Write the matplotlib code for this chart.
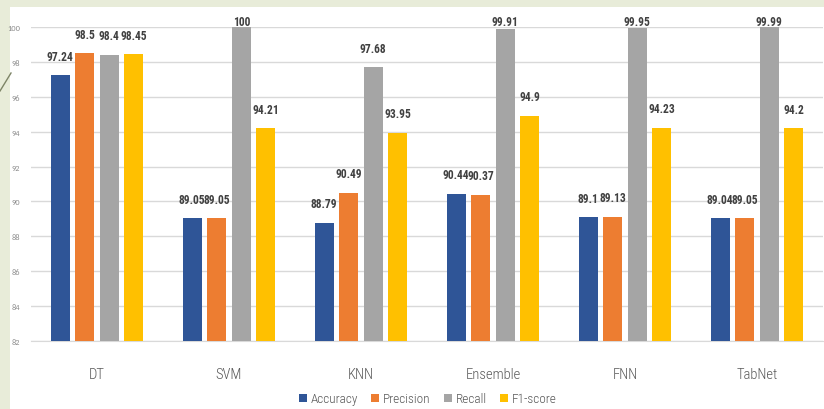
import matplotlib
matplotlib.use("Agg")
import matplotlib.pyplot as plt
from matplotlib.patches import Rectangle
from matplotlib.lines import Line2D
import numpy as np

models = ["DT", "SVM", "KNN", "Ensemble", "FNN", "TabNet"]
series_names = ["Accuracy", "Precision", "Recall", "F1-score"]
accuracy = [97.24, 89.05, 88.79, 90.44, 89.1, 89.04]
precision = [98.5, 89.05, 90.49, 90.37, 89.13, 89.05]
recall = [98.4, 100, 97.68, 99.91, 99.95, 99.99]
f1_score = [98.45, 94.21, 93.95, 94.9, 94.23, 94.2]
label_texts = [
    ["97.24", "89.05", "88.79", "90.44", "89.1", "89.04"],
    ["98.5", "89.05", "90.49", "90.37", "89.13", "89.05"],
    ["98.4", "100", "97.68", "99.91", "99.95", "99.99"],
    ["98.45", "94.21", "93.95", "94.9", "94.23", "94.2"],
]
yticks = [82, 84, 86, 88, 90, 92, 94, 96, 98, 100]

colors = ["#2F5597", "#ED7D31", "#A5A5A5", "#FFC000"]
W, H = 824, 410
fig = plt.figure(figsize=(W / 100, H / 100), dpi=100)
fig.patch.set_facecolor("#E8ECD9")
# white panel
fig.add_artist(Rectangle((10 / W, 0), 1, 1 - 8 / H, transform=fig.transFigure,
                         facecolor="white", edgecolor="none", zorder=0))
# decorative line
fig.add_artist(Line2D([0, 11 / W], [1 - 92 / H, 1 - 74 / H], transform=fig.transFigure,
                      color="#7D8466", lw=1.0))

ax = fig.add_axes([31 / W, 1 - 342 / H, (823 - 31) / W, (342 - 28) / H])
ax.set_facecolor("none")
x = np.arange(len(models))
pitch = 0.186
width = 0.145
data = [accuracy, precision, recall, f1_score]
font_lbl = ["Roboto Condensed", "Carlito", "DejaVu Sans"]
font_txt = ["Roboto Condensed", "Carlito", "DejaVu Sans"]
px_per_unit = (342 - 28) / 18.0
for i, (vals, c, name) in enumerate(zip(data, colors, series_names)):
    pos = x + (i - 1.5) * pitch
    ax.bar(pos, [v - 82 for v in vals], width, bottom=82, color=c, label=name, zorder=3)
    for p, v, t in zip(pos, vals, label_texts[i]):
        ly = min(v + 19 / px_per_unit, 100 + 6 / px_per_unit)
        ax.text(p, ly, t, ha="center", va="center", fontsize=8.3, fontweight="bold",
                color="#404040", family=font_lbl, clip_on=False, zorder=4)

ax.set_xlim(-0.5, 5.5)
ax.set_ylim(82, 100)
ax.set_yticks(yticks)
ax.set_yticklabels([str(t) for t in yticks], fontsize=6, color="#8C8C8C", family=["Carlito", "DejaVu Sans"])
ax.yaxis.grid(True, color="#D9D9D9", lw=1.0, zorder=0)
ax.set_axisbelow(True)
ax.tick_params(axis="y", length=0, pad=8)
ax.tick_params(axis="x", length=0, pad=19)
ax.set_xticks(x)
ax.set_xticklabels(models, fontsize=10.5, color="#595959", family=font_txt, fontweight="light")
for s in ["top", "right", "left"]:
    ax.spines[s].set_visible(False)
ax.spines["bottom"].set_color("#D9D9D9")

leg = fig.legend(loc="center", bbox_to_anchor=(428 / W, 1 - 400 / H), ncol=4, frameon=False,
                 prop={"family": font_txt, "size": 9.5, "weight": "light"}, handlelength=0.6,
                 handleheight=0.6, handletextpad=0.3, columnspacing=1.0)
for t in leg.get_texts():
    t.set_color("#595959")

fig.savefig("out.png", dpi=100, facecolor=fig.get_facecolor())
